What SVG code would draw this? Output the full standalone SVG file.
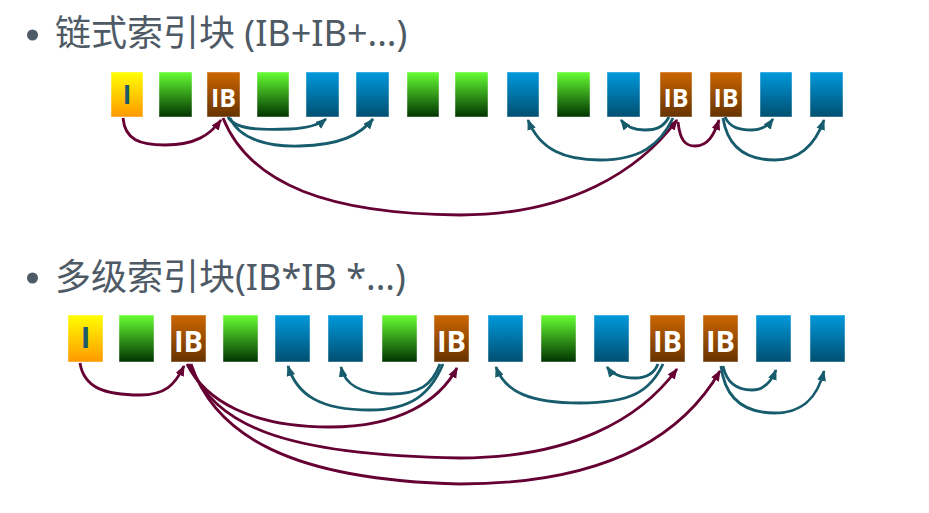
<svg xmlns="http://www.w3.org/2000/svg" width="929" height="513" viewBox="0 0 929 513">
<defs>
<linearGradient id="gI" x1="0" y1="0" x2="0" y2="1"><stop offset="0" stop-color="#ffff00"/><stop offset="1" stop-color="#ff9900"/></linearGradient>
<linearGradient id="gG" x1="0" y1="0" x2="0" y2="1"><stop offset="0" stop-color="#66ff33"/><stop offset="1" stop-color="#003300"/></linearGradient>
<linearGradient id="gB" x1="0" y1="0" x2="0" y2="1"><stop offset="0" stop-color="#0099dd"/><stop offset="1" stop-color="#004f70"/></linearGradient>
<linearGradient id="gIB" x1="0" y1="0" x2="0" y2="1"><stop offset="0" stop-color="#cc6600"/><stop offset="1" stop-color="#663300"/></linearGradient>
<marker id="aM" viewBox="0 0 10 8" refX="9" refY="4" markerWidth="11" markerHeight="9" markerUnits="userSpaceOnUse" orient="auto"><path d="M0,0 L10,4 L0,8 Z" fill="#660033"/></marker>
<marker id="aT" viewBox="0 0 10 8" refX="9" refY="4" markerWidth="11" markerHeight="9" markerUnits="userSpaceOnUse" orient="auto"><path d="M0,0 L10,4 L0,8 Z" fill="#175c6c"/></marker>
</defs>
<style>
.title{font-family:"Noto Sans","Noto Sans CJK SC",sans-serif;font-size:36px;fill:#4e5a65}
.bul{fill:#4e5a65}
.blk{stroke:#ffffff;stroke-opacity:0.45;stroke-width:1}
.I{fill:url(#gI)}
.G{fill:url(#gG)}
.B{fill:url(#gB)}
.IB{fill:url(#gIB)}
.lbIB{font-family:"Open Sans","Liberation Sans",sans-serif;font-weight:700;fill:#ffffff;text-anchor:middle}
.lbI{font-family:"Open Sans","Liberation Sans",sans-serif;font-weight:700;fill:#1b5a6a;text-anchor:middle}
.m{fill:none;stroke:#660033;stroke-width:2.8;marker-end:url(#aM)}
.t{fill:none;stroke:#175c6c;stroke-width:2.8;marker-end:url(#aT)}
</style>
<rect width="929" height="513" fill="#ffffff"/>

<g id="title1">
<circle class="bul" cx="32.5" cy="35" r="5.5"/>
<text class="title" x="55" y="46">链式索引块 (IB+IB+...)</text>
</g>
<g id="title2">
<circle class="bul" cx="32.5" cy="278" r="5.5"/>
<text class="title" x="55" y="290">多级索引块(IB*IB *...)</text>
</g>

<!-- Row 1 -->
<g id="r1b0"><rect class="blk I" x="111" y="72" width="32" height="45"/><text class="lbI" x="127" y="104" font-size="26">I</text></g>
<g id="r1b1"><rect class="blk G" x="159" y="72" width="33" height="45"/></g>
<g id="r1b2"><rect class="blk IB" x="207" y="72" width="33" height="45"/><text class="lbIB" x="223.5" y="106.5" font-size="25">IB</text></g>
<g id="r1b3"><rect class="blk G" x="257" y="72" width="32" height="45"/></g>
<g id="r1b4"><rect class="blk B" x="306" y="72" width="33" height="45"/></g>
<g id="r1b5"><rect class="blk B" x="356" y="72" width="33" height="45"/></g>
<g id="r1b6"><rect class="blk G" x="407" y="72" width="32" height="45"/></g>
<g id="r1b7"><rect class="blk G" x="455" y="72" width="33" height="45"/></g>
<g id="r1b8"><rect class="blk B" x="507" y="72" width="32" height="45"/></g>
<g id="r1b9"><rect class="blk G" x="557" y="72" width="33" height="45"/></g>
<g id="r1b10"><rect class="blk B" x="607" y="72" width="33" height="45"/></g>
<g id="r1b11"><rect class="blk IB" x="660" y="72" width="32" height="45"/><text class="lbIB" x="676" y="106.5" font-size="25">IB</text></g>
<g id="r1b12"><rect class="blk IB" x="710" y="72" width="32" height="45"/><text class="lbIB" x="726" y="106.5" font-size="25">IB</text></g>
<g id="r1b13"><rect class="blk B" x="760" y="72" width="32" height="45"/></g>
<g id="r1b14"><rect class="blk B" x="810" y="72" width="33" height="45"/></g>

<!-- Row 2 -->
<g id="r2b0"><rect class="blk I" x="68" y="315" width="35" height="47"/><text class="lbI" x="85.5" y="348" font-size="29">I</text></g>
<g id="r2b1"><rect class="blk G" x="119" y="315" width="35" height="47"/></g>
<g id="r2b2"><rect class="blk IB" x="171" y="315" width="35" height="47"/><text class="lbIB" x="188.5" y="352" font-size="29">IB</text></g>
<g id="r2b3"><rect class="blk G" x="223" y="315" width="35" height="47"/></g>
<g id="r2b4"><rect class="blk B" x="275" y="315" width="35" height="47"/></g>
<g id="r2b5"><rect class="blk B" x="328" y="315" width="35" height="47"/></g>
<g id="r2b6"><rect class="blk G" x="382" y="315" width="35" height="47"/></g>
<g id="r2b7"><rect class="blk IB" x="434" y="315" width="35" height="47"/><text class="lbIB" x="451.5" y="352" font-size="29">IB</text></g>
<g id="r2b8"><rect class="blk B" x="488" y="315" width="35" height="47"/></g>
<g id="r2b9"><rect class="blk G" x="541" y="315" width="35" height="47"/></g>
<g id="r2b10"><rect class="blk B" x="594" y="315" width="35" height="47"/></g>
<g id="r2b11"><rect class="blk IB" x="650" y="315" width="35" height="47"/><text class="lbIB" x="667.5" y="352" font-size="29">IB</text></g>
<g id="r2b12"><rect class="blk IB" x="703" y="315" width="35" height="47"/><text class="lbIB" x="720.5" y="352" font-size="29">IB</text></g>
<g id="r2b13"><rect class="blk B" x="756" y="315" width="35" height="47"/></g>
<g id="r2b14"><rect class="blk B" x="810" y="315" width="35" height="47"/></g>

<g id="connectors">
<!-- row 1 -->
<path class="m" d="M123,118 C125,140 140,145 165,145 C195,145 210,135 221,120"/>
<path class="t" d="M228,117 C235,130 260,130 290,129 C310,128 320,124 326,119"/>
<path class="t" d="M230,118 C240,140 270,147 300,146 C340,145 360,135 373,119"/>
<path class="m" d="M223,118 C250,185 330,214 460,215 C570,215 640,170 677,120"/>
<path class="t" d="M673,118 C660,145 640,160 600,160 C565,160 540,150 528,120"/>
<path class="t" d="M669,117 C663,128 655,130 645,130 C635,130 627,128 621,120"/>
<path class="m" d="M678,122 C680,140 685,146 695,146 C708,146 714,135 719,120"/>
<path class="t" d="M725,117 C730,128 740,130 752,130 C762,130 768,126 773,119"/>
<path class="t" d="M723,118 C728,150 750,160 775,160 C800,160 815,145 824,120"/>
<!-- row 2 -->
<path class="m" d="M80,363 C84,388 105,395 140,395 C165,395 175,385 184,366"/>
<path class="m" d="M187,364 C205,400 250,427 330,427 C400,427 440,400 457,368"/>
<path class="m" d="M189,364 C215,425 280,455 460,458 C570,458 640,420 677,369"/>
<path class="m" d="M191,364 C215,435 290,480 460,484 C600,484 680,440 720,371"/>
<path class="t" d="M443,364 C430,395 410,410 370,410 C320,410 297,395 288,366"/>
<path class="t" d="M440,364 C432,385 420,394 390,394 C360,394 345,385 341,367"/>
<path class="t" d="M663,364 C650,392 630,403 580,403 C530,403 505,392 496,367"/>
<path class="t" d="M658,364 C654,374 645,378 635,378 C622,378 612,374 607,367"/>
<path class="t" d="M723,366 C727,385 740,390 752,390 C765,390 772,380 776,370"/>
<path class="t" d="M721,366 C725,400 745,413 775,413 C805,413 818,395 824,371"/>
</g>
</svg>
